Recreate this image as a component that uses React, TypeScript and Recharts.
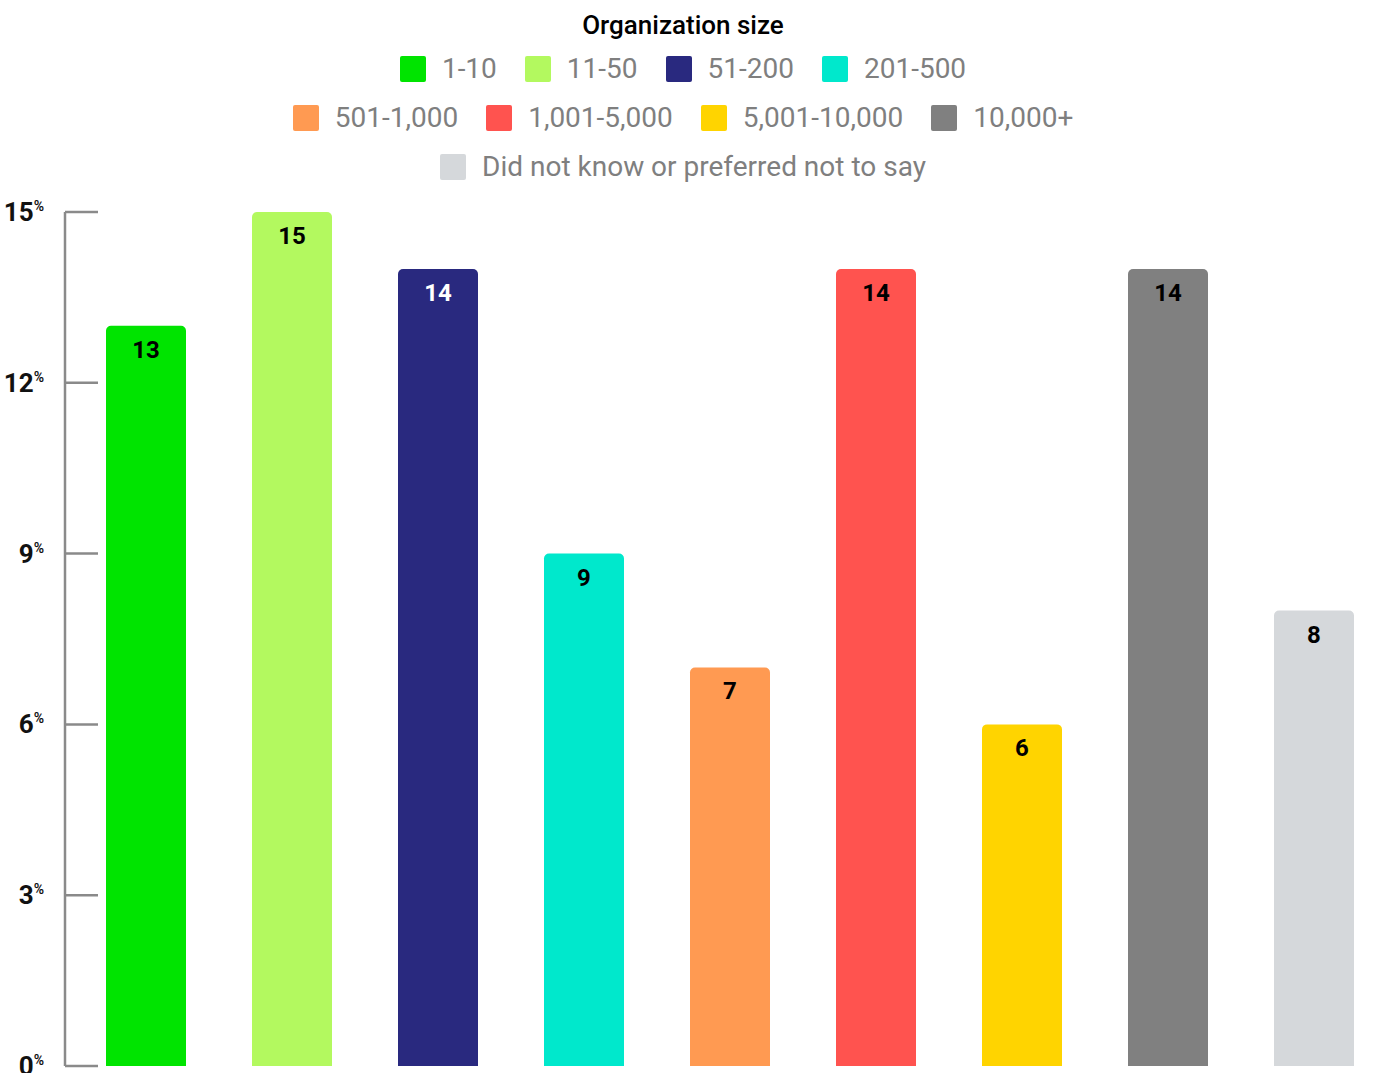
import { BarChart, Bar, XAxis, YAxis, Cell, LabelList, Legend } from 'recharts'

const sizes = [
  '1-10',
  '11-50',
  '51-200',
  '201-500',
  '501-1,000',
  '1,001-5,000',
  '5,001-10,000',
  '10,000+',
  'Did not know or preferred not to say',
]
const shares = [13, 15, 14, 9, 7, 14, 6, 14, 8]
const colors = [
  '#00e400',
  '#b3f95f',
  '#29297f',
  '#00e8cc',
  '#ff9a52',
  '#ff534f',
  '#ffd400',
  '#808080',
  '#d5d8db',
]
const labelColors = ['#000', '#000', '#fff', '#000', '#000', '#000', '#000', '#000', '#000']
const yTicks = [0, 3, 6, 9, 12, 15]
const legendRows = [[0, 1, 2, 3], [4, 5, 6, 7], [8]]

const data = sizes.map((name, i) => ({ name, pos: i, value: shares[i] }))

const FONT = 'Roboto, "Noto Sans", sans-serif'
const AXIS = '#8a8a8a'

function PercentTick({ x, y, payload }: any) {
  return (
    <g>
      <line x1={x} x2={x + 33} y1={y} y2={y} stroke={AXIS} strokeWidth={2.5} />
      <text
        x={x - 21}
        y={y}
        dy={9}
        textAnchor="end"
        fontFamily={FONT}
        fontWeight={700}
        fontSize={26}
        fill="#111"
      >
        <tspan>{payload.value}</tspan>
        <tspan fontSize={14} fontWeight={600} dy={-10}>
          %
        </tspan>
      </text>
    </g>
  )
}

function ValueLabel({ x, y, width, value, index }: any) {
  return (
    <text
      x={x + width / 2}
      y={y + 24}
      textAnchor="middle"
      dominantBaseline="central"
      fontFamily={FONT}
      fontWeight={700}
      fontSize={24}
      fill={labelColors[index]}
    >
      {value}
    </text>
  )
}

function SizeLegend() {
  return (
    <div style={{ fontFamily: FONT, textAlign: 'center' }}>
      <div style={{ fontSize: 26, fontWeight: 500, color: '#000', height: 44, lineHeight: '50px' }}>
        Organization size
      </div>
      {legendRows.map((row, r) => (
        <div
          key={r}
          style={{ display: 'flex', justifyContent: 'center', gap: 28, height: 49, alignItems: 'center' }}
        >
          {row.map((i) => (
            <div key={i} style={{ display: 'flex', alignItems: 'center', gap: 16 }}>
              <span
                style={{
                  width: 26,
                  height: 26,
                  borderRadius: 2,
                  backgroundColor: colors[i],
                  display: 'inline-block',
                }}
              />
              <span style={{ fontSize: 28, color: '#7f7f7f' }}>{sizes[i]}</span>
            </div>
          ))}
        </div>
      ))}
    </div>
  )
}

export default function App() {
  return (
    <div style={{ position: 'absolute', left: 0, top: 0, background: '#fff' }}>
      <BarChart width={1375} height={1073} data={data} margin={{ top: 212, right: 20, bottom: 7, left: 0 }}>
        <Legend
          layout="horizontal"
          verticalAlign="middle"
          align="center"
          content={<SizeLegend />}
          wrapperStyle={{ top: 0, left: 0, width: 1366, height: 190 }}
        />
        <XAxis
          type="number"
          dataKey="pos"
          domain={[-0.5548, 8.2808]}
          ticks={[0, 1, 2, 3, 4, 5, 6, 7, 8]}
          tick={false}
          tickLine={false}
          height={0}
          axisLine={{ stroke: AXIS, strokeWidth: 2.5 }}
        />
        <YAxis
          width={65}
          domain={[0, 15]}
          ticks={yTicks}
          interval={0}
          tickSize={0}
          tickMargin={0}
          tickLine={false}
          tick={<PercentTick />}
          axisLine={{ stroke: AXIS, strokeWidth: 2.5 }}
        />
        <Bar dataKey="value" barSize={80} radius={[5, 5, 0, 0]} isAnimationActive={false}>
          {data.map((d, i) => (
            <Cell key={d.name} fill={colors[i]} />
          ))}
          <LabelList dataKey="value" content={<ValueLabel />} />
        </Bar>
      </BarChart>
    </div>
  )
}
